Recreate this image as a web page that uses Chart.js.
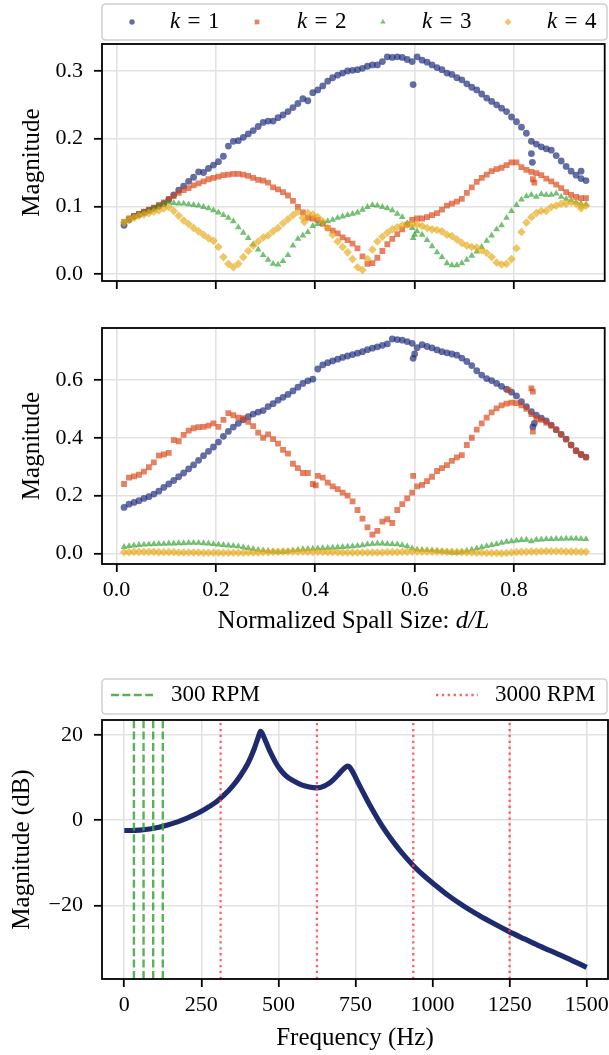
<!DOCTYPE html>
<html>
<head>
<meta charset="utf-8">
<script src="https://cdn.jsdelivr.net/npm/chart.js@4.4.0/dist/chart.umd.min.js"></script>
<style>
html,body{margin:0;padding:0;background:#fff;}
#wrap{position:relative;width:609px;height:1055px;overflow:hidden;background:#fff;}
canvas{position:absolute;left:0;}
</style>
</head>
<body>
<div id="wrap">
<canvas id="c1" width="609" height="300" style="top:0px"></canvas>
<canvas id="c2" width="609" height="350" style="top:300px"></canvas>
<canvas id="c3" width="609" height="405" style="top:650px"></canvas>
</div>
<script>
// ---------------- DATA ----------------
const spallSize = [
0.015,0.025,0.035,0.045,0.055,0.065,0.075,0.085,0.095,0.105,
0.115,0.125,0.135,0.145,0.155,0.165,0.175,0.185,0.195,0.205,
0.215,0.225,0.235,0.245,0.255,0.265,0.275,0.285,0.295,0.305,
0.315,0.325,0.335,0.345,0.355,0.365,0.375,0.385,0.395,0.405,
0.415,0.425,0.435,0.445,0.455,0.465,0.475,0.485,0.495,0.505,
0.515,0.525,0.535,0.545,0.555,0.565,0.575,0.585,0.595,0.605,
0.615,0.625,0.635,0.645,0.655,0.665,0.675,0.685,0.695,0.705,
0.715,0.725,0.735,0.745,0.755,0.765,0.775,0.785,0.795,0.805,
0.815,0.825,0.835,0.845,0.855,0.865,0.875,0.885,0.895,0.905,
0.915,0.925,0.935,0.945];

const topK1 = [
0.072,0.080,0.085,0.088,0.091,0.094,0.097,0.100,0.104,0.110,
0.117,0.124,0.130,0.137,0.143,0.151,0.150,0.156,0.161,0.166,
0.174,0.189,0.196,0.197,0.202,0.207,0.212,0.218,0.224,0.226,
0.226,0.231,0.235,0.240,0.246,0.252,0.259,0.256,0.268,0.272,
0.278,0.285,0.290,0.294,0.297,0.300,0.301,0.302,0.304,0.307,
0.309,0.309,0.314,0.321,0.320,0.321,0.320,0.317,0.314,0.321,
0.316,0.313,0.309,0.305,0.302,0.297,0.295,0.290,0.287,0.281,
0.276,0.272,0.266,0.260,0.255,0.250,0.245,0.240,0.232,0.225,
0.217,0.208,0.196,0.192,0.188,0.185,0.183,0.175,0.167,0.159,
0.152,0.146,0.141,0.138];
const topK2 = [
0.077,0.082,0.086,0.089,0.092,0.095,0.098,0.102,0.106,0.111,
0.115,0.120,0.124,0.127,0.131,0.134,0.137,0.140,0.142,0.144,
0.146,0.147,0.148,0.148,0.147,0.145,0.142,0.139,0.138,0.135,
0.128,0.125,0.121,0.116,0.108,0.099,0.091,0.083,0.082,0.080,
0.074,0.068,0.064,0.060,0.054,0.050,0.045,0.038,0.026,0.015,
0.016,0.024,0.034,0.044,0.052,0.059,0.066,0.073,0.080,0.082,
0.082,0.084,0.087,0.090,0.095,0.101,0.104,0.107,0.111,0.120,
0.128,0.136,0.142,0.147,0.152,0.155,0.157,0.161,0.165,0.165,
0.158,0.154,0.151,0.149,0.146,0.141,0.137,0.132,0.127,0.121,
0.117,0.114,0.112,0.112];
const topK3 = [
0.076,0.081,0.085,0.088,0.091,0.094,0.097,0.100,0.104,0.106,
0.105,0.104,0.104,0.103,0.102,0.101,0.099,0.097,0.094,0.091,
0.087,0.083,0.078,0.069,0.061,0.053,0.044,0.036,0.028,0.021,
0.015,0.014,0.019,0.028,0.042,0.052,0.057,0.062,0.071,0.074,
0.076,0.078,0.080,0.083,0.085,0.087,0.089,0.091,0.095,0.099,
0.102,0.101,0.099,0.097,0.094,0.089,0.084,0.075,0.068,0.063,
0.058,0.050,0.041,0.032,0.025,0.016,0.013,0.013,0.016,0.021,
0.027,0.033,0.040,0.049,0.057,0.066,0.072,0.083,0.093,0.102,
0.110,0.115,0.117,0.114,0.118,0.117,0.117,0.119,0.114,0.111,
0.109,0.106,0.104,0.103];
const topK4 = [
0.076,0.080,0.083,0.086,0.088,0.090,0.092,0.094,0.097,0.099,
0.093,0.086,0.079,0.074,0.068,0.063,0.058,0.053,0.049,0.040,
0.025,0.015,0.010,0.015,0.025,0.034,0.042,0.048,0.054,0.057,
0.063,0.068,0.075,0.081,0.087,0.092,0.083,0.090,0.088,0.084,
0.078,0.068,0.058,0.048,0.040,0.032,0.022,0.010,0.006,0.022,
0.036,0.048,0.055,0.061,0.066,0.069,0.072,0.073,0.074,0.073,
0.071,0.068,0.066,0.065,0.063,0.058,0.056,0.051,0.046,0.042,
0.040,0.039,0.035,0.031,0.025,0.017,0.014,0.015,0.022,0.038,
0.062,0.076,0.084,0.090,0.093,0.093,0.099,0.101,0.104,0.104,
0.106,0.104,0.101,0.101];

const midK1 = [
0.159,0.170,0.176,0.182,0.190,0.196,0.205,0.215,0.228,0.240,
0.252,0.265,0.278,0.292,0.306,0.322,0.338,0.353,0.368,0.385,
0.405,0.422,0.437,0.450,0.462,0.473,0.482,0.489,0.494,0.508,
0.518,0.530,0.540,0.550,0.562,0.575,0.588,0.597,0.603,0.638,
0.652,0.660,0.666,0.672,0.678,0.683,0.688,0.693,0.698,0.705,
0.710,0.715,0.720,0.725,0.742,0.740,0.738,0.733,0.727,0.712,
0.722,0.716,0.711,0.704,0.698,0.694,0.690,0.686,0.676,0.664,
0.650,0.632,0.617,0.605,0.598,0.588,0.578,0.568,0.558,0.545,
0.525,0.508,0.490,0.478,0.468,0.458,0.444,0.428,0.412,0.395,
0.375,0.355,0.342,0.333];
const midK2 = [
0.240,0.262,0.266,0.272,0.283,0.298,0.315,0.338,0.342,0.348,
0.392,0.388,0.410,0.425,0.433,0.437,0.438,0.442,0.450,0.438,
0.462,0.485,0.478,0.470,0.468,0.455,0.440,0.418,0.400,0.412,
0.395,0.380,0.358,0.345,0.310,0.295,0.278,0.278,0.240,0.268,
0.262,0.245,0.232,0.222,0.210,0.200,0.180,0.150,0.120,0.090,
0.065,0.078,0.110,0.118,0.105,0.150,0.170,0.190,0.210,0.232,
0.237,0.250,0.265,0.285,0.295,0.305,0.320,0.332,0.340,0.375,
0.400,0.428,0.450,0.470,0.488,0.502,0.512,0.518,0.522,0.520,
0.512,0.500,0.482,0.465,0.462,0.452,0.442,0.428,0.412,0.395,
0.375,0.355,0.342,0.332];
const midK3 = [
0.022,0.025,0.027,0.029,0.030,0.031,0.032,0.033,0.033,0.034,
0.034,0.035,0.035,0.036,0.036,0.036,0.035,0.034,0.032,0.030,
0.029,0.027,0.026,0.024,0.021,0.018,0.015,0.012,0.010,0.008,
0.006,0.005,0.005,0.007,0.010,0.012,0.014,0.015,0.016,0.017,
0.018,0.019,0.020,0.021,0.022,0.023,0.024,0.026,0.028,0.031,
0.033,0.034,0.034,0.033,0.032,0.031,0.028,0.024,0.017,0.013,
0.012,0.011,0.010,0.009,0.007,0.005,0.003,0.003,0.005,0.009,
0.013,0.017,0.021,0.025,0.029,0.032,0.036,0.040,0.042,0.044,
0.046,0.047,0.042,0.047,0.048,0.049,0.049,0.050,0.050,0.051,
0.051,0.051,0.050,0.049];
const midK4 = [
0.004,0.004,0.005,0.005,0.005,0.005,0.005,0.004,0.004,0.004,
0.004,0.003,0.003,0.003,0.003,0.003,0.002,0.002,0.002,0.002,
0.002,0.002,0.002,0.002,0.002,0.003,0.003,0.003,0.004,0.004,
0.005,0.005,0.006,0.006,0.006,0.006,0.006,0.005,0.005,0.005,
0.005,0.004,0.004,0.004,0.003,0.003,0.003,0.003,0.003,0.003,
0.003,0.003,0.003,0.004,0.004,0.004,0.005,0.005,0.006,0.006,
0.006,0.006,0.006,0.006,0.006,0.005,0.005,0.004,0.004,0.003,
0.003,0.002,0.002,0.001,0.001,0.001,0.000,0.001,0.003,0.004,
0.005,0.005,0.006,0.006,0.007,0.007,0.007,0.007,0.007,0.006,
0.006,0.006,0.005,0.005];

// stray points (x, y) seen off the main bands
const topK1Extra = [[0.597,0.280],[0.835,0.178],[0.837,0.165],[0.935,0.152]];
const topK2Extra = [[0.838,0.140],[0.841,0.135]];
const topK3Extra = [[0.597,0.053],[0.600,0.058]];
const topK4Extra = [[0.378,0.077],[0.935,0.097]];
const midK1Extra = [[0.597,0.675],[0.600,0.690],[0.838,0.438],[0.841,0.450]];
const midK2Extra = [[0.597,0.268],[0.789,0.565],[0.835,0.571],[0.838,0.560],[0.838,0.421],[0.401,0.235]];

const seriesLabels = ['k = 1','k = 2','k = 3','k = 4'];

const freqHz = [0,25,50,75,100,125,150,175,200,225,250,275,300,325,350,375,400,420,435,442,
450,460,475,490,505,525,550,575,600,625,650,670,690,705,718,725,732,745,760,780,
800,825,850,875,900,937,975,1000,1050,1100,1150,1200,1250,1300,1350,1400,1450,1500];
const magDb = [-2.4,-2.4,-2.3,-2.1,-1.8,-1.4,-0.9,-0.3,0.4,1.2,2.1,3.2,4.4,6.0,7.9,10.3,13.2,16.5,19.6,20.9,
20.0,18.3,15.8,13.7,12.0,10.4,9.2,8.3,7.8,7.6,8.1,9.0,10.4,11.6,12.5,12.7,12.4,10.8,8.6,5.8,
3.1,0.0,-2.8,-5.3,-7.6,-10.6,-13.2,-14.7,-17.6,-20.1,-22.3,-24.3,-26.2,-27.9,-29.6,-31.2,-32.8,-34.5];
const rpm300Lines = [31.25,62.5,93.75,125];
const rpm3000Lines = [312.5,625,937.5,1250];
const lineLabels = ['300 RPM','3000 RPM'];

const spallTicks = [0,0.2,0.4,0.6,0.8];
const spallTickLabels = ['0.0','0.2','0.4','0.6','0.8'];
const topYTicks = [0,0.1,0.2,0.3];
const topYTickLabels = ['0.0','0.1','0.2','0.3'];
const midYTicks = [0,0.2,0.4,0.6];
const midYTickLabels = ['0.0','0.2','0.4','0.6'];
const freqTicks = [0,250,500,750,1000,1250,1500];
const freqTickLabels = ['0','250','500','750','1000','1250','1500'];
const dbTicks = [-20,0,20];
const dbTickLabels = ['\u221220','0','20'];

// ---------------- STYLE / HELPERS ----------------
const FAM = '"Liberation Serif", "DejaVu Serif", serif';
Chart.defaults.font.family = FAM;
Chart.defaults.color = '#000';
const TICKFONT = {family: FAM, size: 22, lineHeight: 1.2};
const TITLEFONT = {family: FAM, size: 25, lineHeight: 1.2};
const GRID = {color:'#e2e2e2', lineWidth:1.6, drawTicks:true, tickLength:8, tickColor:'#000', tickWidth:1.8};

function zeroPad(s){ s.paddingLeft=0; s.paddingRight=0; s.paddingTop=0; s.paddingBottom=0; }

function mkX(min,max,ticks,labels,showLabels,title,h,lblPad,titlePad){
  return {
    type:'linear', position:'bottom', min, max,
    afterBuildTicks: s => { s.ticks = ticks.map(v => ({value:v})); },
    afterFit: s => { s.height = h; zeroPad(s); },
    grid: GRID, border:{display:false},
    ticks:{display:showLabels, autoSkip:false, maxRotation:0, minRotation:0, padding:lblPad,
      font:TICKFONT, color:'#000', callback:(v,i)=>labels[i]},
    title:{display:!!title, text:title||'', font:TITLEFONT, color:'#000', padding:{top:0,bottom:titlePad}}
  };
}
function mkY(min,max,ticks,labels,title,titlePad){
  return {
    type:'linear', position:'left', min, max,
    afterBuildTicks: s => { s.ticks = ticks.map(v => ({value:v})); },
    afterFit: s => { s.width = 102; zeroPad(s); },
    grid: GRID, border:{display:false},
    ticks:{autoSkip:false, padding:11, font:TICKFONT, color:'#000', callback:(v,i)=>labels[i]},
    title:{display:true, text:title, font:TITLEFONT, color:'#000', padding:{top:titlePad,bottom:0}}
  };
}

const frame = {
  id:'frame',
  afterDatasetsDraw(chart){
    const {ctx, chartArea:a} = chart;
    ctx.save();
    ctx.strokeStyle = '#000'; ctx.lineWidth = 1.8;
    ctx.strokeRect(a.left, a.top, a.right-a.left, a.bottom-a.top);
    ctx.restore();
  }
};

// x-axis title with an italic math part (e.g. "d/L")
const mathTitle = {
  id:'mathTitle',
  afterDraw(chart, args, opts){
    if (!opts || !opts.plain) return;
    const ctx = chart.ctx, a = chart.chartArea;
    ctx.save();
    ctx.fillStyle = '#000'; ctx.textBaseline = 'middle'; ctx.textAlign = 'left';
    const up = opts.size + 'px ' + FAM, it = 'italic ' + opts.size + 'px ' + FAM;
    ctx.font = up; const w1 = ctx.measureText(opts.plain).width;
    ctx.font = it; const w2 = ctx.measureText(opts.math).width;
    const x0 = (a.left + a.right)/2 - (w1 + w2)/2;
    ctx.font = up; ctx.fillText(opts.plain, x0, opts.y);
    ctx.font = it; ctx.fillText(opts.math, x0 + w1, opts.y);
    ctx.restore();
  }
};

function roundRect(ctx,x,y,w,h,r){
  ctx.beginPath();
  ctx.moveTo(x+r,y); ctx.lineTo(x+w-r,y); ctx.quadraticCurveTo(x+w,y,x+w,y+r);
  ctx.lineTo(x+w,y+h-r); ctx.quadraticCurveTo(x+w,y+h,x+w-r,y+h);
  ctx.lineTo(x+r,y+h); ctx.quadraticCurveTo(x,y+h,x,y+h-r);
  ctx.lineTo(x,y+r); ctx.quadraticCurveTo(x,y,x+r,y); ctx.closePath();
}

const boxLegend = {
  id:'boxLegend',
  afterDraw(chart, args, opts){
    if (!opts || !opts.items) return;
    const ctx = chart.ctx;
    const [bx,by,bw,bh] = opts.box;
    ctx.save();
    roundRect(ctx,bx,by,bw,bh,4);
    ctx.fillStyle = 'rgba(255,255,255,0.9)'; ctx.fill();
    ctx.strokeStyle = '#d0d0d0'; ctx.lineWidth = 1.5; ctx.stroke();
    const y = opts.y;
    opts.items.forEach(it => {
      const ds = chart.data.datasets[it.ds];
      if (it.kind === 'marker') {
        ctx.fillStyle = ds.backgroundColor;
        Chart.helpers.drawPoint(ctx, {pointStyle:ds.pointStyle, rotation:0, radius:ds.pointRadius*0.8, borderWidth:0}, it.mx, y);
      } else {
        ctx.strokeStyle = ds.borderColor; ctx.lineWidth = ds.borderWidth;
        ctx.setLineDash(ds.borderDash || []);
        ctx.beginPath(); ctx.moveTo(it.x0, y); ctx.lineTo(it.x1, y); ctx.stroke();
        ctx.setLineDash([]);
      }
      ctx.fillStyle = '#000'; ctx.textBaseline = 'middle'; ctx.textAlign = 'left';
      const fs = opts.fontSize;
      if (it.math) {
        const parts = ds.label.split(' '); // ['k','=','1']
        ctx.font = 'italic ' + fs + 'px ' + FAM;
        ctx.fillText(parts[0], it.tx, y);
        let x = it.tx + ctx.measureText(parts[0]).width + 0.32*fs;
        ctx.font = fs + 'px ' + FAM;
        ctx.fillText(parts[1], x, y);
        x += ctx.measureText(parts[1]).width + 0.32*fs;
        ctx.fillText(parts[2], x, y);
      } else {
        ctx.font = fs + 'px ' + FAM;
        ctx.fillText(ds.label, it.tx, y);
      }
    });
    ctx.restore();
  }
};

const STY = [
  {c:'rgba(27,42,122,0.68)',  s:'circle',   r:3.4, o:4},
  {c:'rgba(217,64,15,0.66)',  s:'rect',     r:4.1, o:3},
  {c:'rgba(44,160,44,0.66)',  s:'triangle', r:3.9, o:2},
  {c:'rgba(230,168,23,0.66)', s:'rectRot',  r:4.3, o:1}
];
function scatterSet(i, ys, extra){
  const pts = spallSize.map((x,j)=>({x, y:ys[j]})).concat(extra.map(p=>({x:p[0], y:p[1]})));
  return {label:seriesLabels[i], data:pts, backgroundColor:STY[i].c, borderWidth:0,
    pointStyle:STY[i].s, pointRadius:STY[i].r, pointHoverRadius:STY[i].r, order:STY[i].o, showLine:false};
}

const baseOpts = {responsive:false, animation:false, events:[], devicePixelRatio:1};

// ---------------- CHART 1 ----------------
new Chart(document.getElementById('c1'), {
  type:'scatter',
  data:{datasets:[
    scatterSet(0, topK1, topK1Extra), scatterSet(1, topK2, topK2Extra),
    scatterSet(2, topK3, topK3Extra), scatterSet(3, topK4, topK4Extra)]},
  options:Object.assign({}, baseOpts, {
    layout:{padding:{left:0,right:1,top:44,bottom:0}},
    plugins:{legend:{display:false}, tooltip:{enabled:false},
      boxLegend:{box:[102,4,505,36], y:22, fontSize:23, items:[
        {ds:0, kind:'marker', mx:132, tx:170, math:true},
        {ds:1, kind:'marker', mx:257, tx:297, math:true},
        {ds:2, kind:'marker', mx:383, tx:422, math:true},
        {ds:3, kind:'marker', mx:508, tx:547, math:true}]}},
    scales:{
      x: mkX(-0.0294, 0.9826, spallTicks, spallTickLabels, false, '', 19, 5, 0),
      y: mkY(-0.01034, 0.3399, topYTicks, topYTickLabels, 'Magnitude', 17)
    }
  }),
  plugins:[frame, boxLegend]
});

// ---------------- CHART 2 ----------------
new Chart(document.getElementById('c2'), {
  type:'scatter',
  data:{datasets:[
    scatterSet(0, midK1, midK1Extra), scatterSet(1, midK2, midK2Extra),
    scatterSet(2, midK3, []), scatterSet(3, midK4, [])]},
  options:Object.assign({}, baseOpts, {
    layout:{padding:{left:0,right:1,top:28,bottom:0}},
    plugins:{legend:{display:false}, tooltip:{enabled:false},
      mathTitle:{plain:'Normalized Spall Size: ', math:'d/L', size:25, y:321}},
    scales:{
      x: mkX(-0.0294, 0.9826, spallTicks, spallTickLabels, true, '', 86, 5, 0),
      y: mkY(-0.037, 0.780, midYTicks, midYTickLabels, 'Magnitude', 17)
    }
  }),
  plugins:[frame, mathTitle]
});

// ---------------- CHART 3 ----------------
const Y3MIN = -37.25, Y3MAX = 23.54;
function vlines(xs){ const out=[]; xs.forEach(x=>{ out.push({x, y:Y3MIN},{x, y:Y3MAX},{x, y:null}); }); return out; }
new Chart(document.getElementById('c3'), {
  type:'scatter',
  data:{datasets:[
    {label:lineLabels[0], data:vlines(rpm300Lines), showLine:true, spanGaps:false, pointRadius:0,
      borderColor:'rgba(60,165,60,0.85)', borderWidth:2.4, borderDash:[8,3.4], order:1},
    {label:lineLabels[1], data:vlines(rpm3000Lines), showLine:true, spanGaps:false, pointRadius:0,
      borderColor:'rgba(255,70,70,0.85)', borderWidth:2.3, borderDash:[2.3,3.6], order:2},
    {label:'response', data:freqHz.map((f,i)=>({x:f, y:magDb[i]})), showLine:true, pointRadius:0,
      borderColor:'#1f2b6f', borderWidth:5.2, cubicInterpolationMode:'monotone', order:3}
  ]},
  options:Object.assign({}, baseOpts, {
    layout:{padding:{left:0,right:1,top:70,bottom:0}},
    plugins:{legend:{display:false}, tooltip:{enabled:false},
      boxLegend:{box:[102,29,505,35], y:45, fontSize:23, items:[
        {ds:0, kind:'line', x0:111, x1:153, tx:171},
        {ds:1, kind:'line', x0:436, x1:478, tx:495}]}},
    scales:{
      x: mkX(-72.3, 1569.1, freqTicks, freqTickLabels, true, 'Frequency (Hz)', 76, 5, 2),
      y: mkY(Y3MIN, Y3MAX, dbTicks, dbTickLabels, 'Magnitude (dB)', 7)
    }
  }),
  plugins:[frame, boxLegend]
});
</script>
</body>
</html>
